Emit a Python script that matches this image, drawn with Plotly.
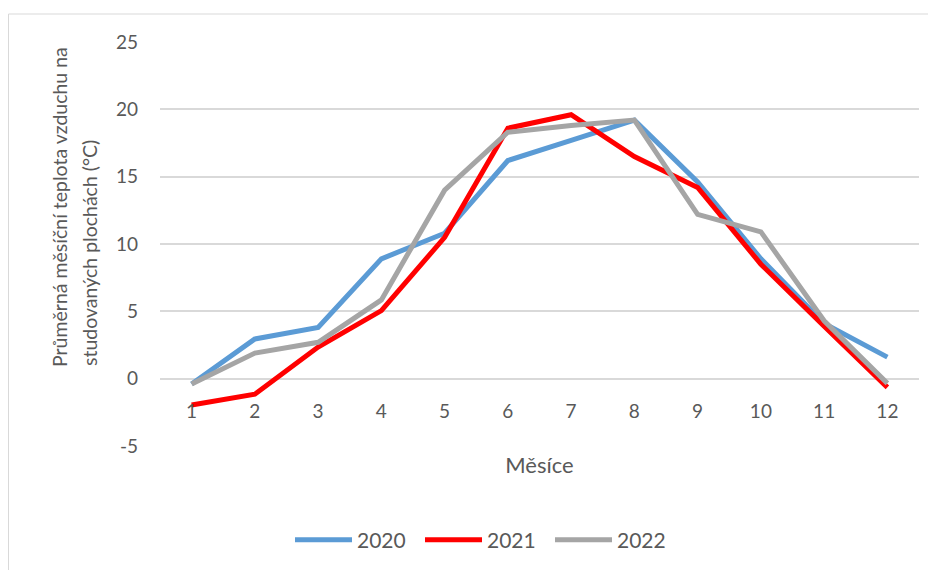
import plotly.graph_objects as go

months = [1, 2, 3, 4, 5, 6, 7, 8, 9, 10, 11, 12]
month_labels = ["1", "2", "3", "4", "5", "6", "7", "8", "9", "10", "11", "12"]
t2020 = [-0.4, 2.95, 3.8, 8.9, 10.8, 16.2, 17.7, 19.2, 14.6, 8.9, 4.1, 1.6]
t2021 = [-1.95, -1.15, 2.35, 5.05, 10.5, 18.6, 19.6, 16.5, 14.2, 8.5, 3.9, -0.65]
t2022 = [-0.4, 1.9, 2.7, 5.85, 14.0, 18.3, 18.8, 19.2, 12.2, 10.9, 4.3, -0.35]
series_names = ["2020", "2021", "2022"]
series_colors = ["#5B9BD5", "#FF0000", "#A5A5A5"]
y_ticks = [-5, 0, 5, 10, 15, 20, 25]
y_tick_labels = ["-5", "0", "5", "10", "15", "20", "25"]

FONT = "Lato, 'Open Sans', sans-serif"
TXT = "#595959"

fig = go.Figure()
for name, vals, col in zip(series_names, [t2020, t2021, t2022], series_colors):
    fig.add_trace(go.Scatter(x=months, y=vals, name=name, mode="lines",
                             line=dict(color=col, width=5)))

# page offset: browser body has an 8px margin
OFF = 8
W, H = 936 - OFF, 570 - OFF
PL, PR, PT, PB = 160, 919, 42, 446  # plot area in page pixels
ml, mt = PL - OFF, PT - OFF
mr = W - (PR - OFF)
mb = H - (PB - OFF)
pw, ph = PR - PL, PB - PT

def px_x(px):
    return (px - PL) / pw

def px_y(py):
    return (PB - py) / ph

fig.update_layout(
    width=W, height=H,
    margin=dict(l=ml, r=mr, t=mt, b=mb, autoexpand=False),
    paper_bgcolor="white", plot_bgcolor="white",
    font=dict(family=FONT, size=19, color=TXT),
    showlegend=True,
    legend=dict(orientation="h", x=px_x(485), xanchor="center", y=px_y(540), yanchor="middle",
                font=dict(size=21, color=TXT), itemwidth=57, entrywidth=58, tracegroupgap=0),
    xaxis=dict(range=[0.5, 12.5], tickvals=months, ticktext=month_labels,
               showgrid=False, zeroline=False, showline=False, ticks="",
               anchor="free", position=(0 - (-5)) / 30.0, ticklabelstandoff=19,
               tickfont=dict(size=19, color=TXT),
               title=dict(text="Měsíce", font=dict(size=22, color=TXT), standoff=36)),
    yaxis=dict(range=[-5, 25], tickvals=y_ticks, ticktext=y_tick_labels,
               showgrid=True, gridcolor="#D9D9D9", gridwidth=1.5,
               zeroline=False, showline=False, ticks="", ticklabelstandoff=21,
               tickfont=dict(size=19, color=TXT)),
    annotations=[
        dict(text="Průměrná měsíční teplota vzduchu na", textangle=-90, showarrow=False,
             xref="paper", yref="paper", x=px_x(59), y=px_y(207), xanchor="center", yanchor="middle",
             font=dict(size=19.5, color=TXT)),
        dict(text="studovaných plochách (°C)", textangle=-90, showarrow=False,
             xref="paper", yref="paper", x=px_x(89), y=px_y(253), xanchor="center", yanchor="middle",
             font=dict(size=19.5, color=TXT)),
    ],
    shapes=[
        dict(type="line", xref="paper", yref="paper", x0=px_x(8.5), x1=px_x(940), y0=px_y(14), y1=px_y(14),
             line=dict(color="#D9D9D9", width=1)),
        dict(type="line", xref="paper", yref="paper", x0=px_x(8.5), x1=px_x(8.5), y0=px_y(14), y1=px_y(575),
             line=dict(color="#D9D9D9", width=1)),
    ],
)

fig.write_html("out.html")
